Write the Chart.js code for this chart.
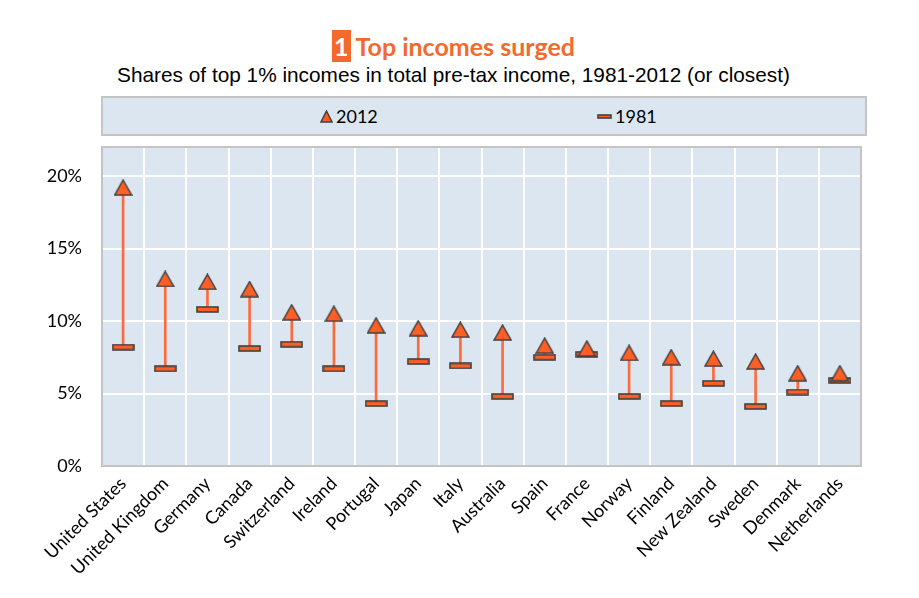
<!DOCTYPE html>
<html>
<head>
<meta charset="utf-8">
<script src="https://cdn.jsdelivr.net/npm/chart.js@4.4.1/dist/chart.umd.min.js"></script>
<style>
  body { margin: 0; background: #fff; width: 919px; height: 598px; position: relative; overflow: hidden; }
  #title { position: absolute; top: 31px; left: 0; width: 907px; text-align: center; font: bold 25px Lato, sans-serif; color: #F36A2C; }
  #title .num { background: #F36A2C; color: #fff; padding: 1px 2px; margin-right: 5px; }
  #subtitle { position: absolute; top: 63px; left: 0; width: 907px; text-align: center; font: 20.8px "Liberation Sans", Arial, sans-serif; color: #000; }
  #legend { position: absolute; left: 101px; top: 96px; width: 762px; height: 36px; background: #DCE6F1; border: 2px solid #C4C4C4; }
  .item { position: absolute; top: 7px; font: 18px Lato, sans-serif; color: #000; display: flex; align-items: center; }
  .item canvas { margin-right: 3px; }
  #wrap { position: absolute; left: 0; top: 140px; width: 919px; height: 458px; }
</style>
</head>
<body>
<div id="title"><span class="num">1</span>Top incomes surged</div>
<div id="subtitle">Shares of top 1% incomes in total pre-tax income, 1981-2012 (or closest)</div>
<div id="legend">
  <div class="item" style="left:217px"><canvas id="lgTri"></canvas>2012</div>
  <div class="item" style="left:494px"><canvas id="lgBar"></canvas>1981</div>
</div>
<div id="wrap"><canvas id="chart"></canvas></div>
<script>
const countries = ['United States', 'United Kingdom', 'Germany', 'Canada', 'Switzerland', 'Ireland',
  'Portugal', 'Japan', 'Italy', 'Australia', 'Spain', 'France', 'Norway', 'Finland',
  'New Zealand', 'Sweden', 'Denmark', 'Netherlands'];
const share2012 = [19.2, 12.9, 12.7, 12.2, 10.6, 10.5, 9.7, 9.5, 9.4, 9.2, 8.3, 8.1, 7.8, 7.5, 7.4, 7.2, 6.4, 6.4];
const share1981 = [8.2, 6.7, 10.8, 8.1, 8.4, 6.7, 4.3, 7.2, 6.9, 4.8, 7.5, 7.7, 4.8, 4.3, 5.7, 4.1, 5.1, 5.9];
const yTicks = [0, 5, 10, 15, 20];

const orange = '#FF5E24';
const dark = '#404040';

// marker images, used in the chart and the legend
function triangleMarker(w, h, canvas) {
  const c = canvas || document.createElement('canvas');
  c.width = w; c.height = h;
  const g = c.getContext('2d');
  g.beginPath();
  g.moveTo(w / 2, 1);
  g.lineTo(w - 1, h - 1);
  g.lineTo(1, h - 1);
  g.closePath();
  g.fillStyle = orange;
  g.fill();
  g.lineWidth = 1.5;
  g.strokeStyle = dark;
  g.stroke();
  return c;
}

function barMarker(w, h, canvas) {
  const c = canvas || document.createElement('canvas');
  c.width = w; c.height = h;
  const g = c.getContext('2d');
  g.fillStyle = orange;
  g.fillRect(1, 1, w - 2, h - 2);
  g.lineWidth = 1.6;
  g.strokeStyle = dark;
  g.strokeRect(1, 1, w - 2, h - 2);
  return c;
}

triangleMarker(13, 13, document.getElementById('lgTri'));
barMarker(15, 5, document.getElementById('lgBar'));

const triImg = triangleMarker(19, 17);
const barImg = barMarker(23, 7);

// plot background and frame
const plotFrame = {
  id: 'plotFrame',
  beforeDraw(chart) {
    const a = chart.chartArea, g = chart.ctx;
    g.save();
    g.fillStyle = '#DCE6F1';
    g.fillRect(a.left, a.top, a.right - a.left, a.bottom - a.top);
    g.restore();
  },
  beforeDatasetsDraw(chart) {
    const a = chart.chartArea, g = chart.ctx;
    g.save();
    g.strokeStyle = '#C4C4C4';
    g.lineWidth = 2;
    g.strokeRect(a.left, a.top, a.right - a.left, a.bottom - a.top);
    g.restore();
  }
};

const connector = share1981.map((v, i) => [v, share2012[i]]);

new Chart(document.getElementById('chart'), {
  type: 'bar',
  data: {
    labels: countries,
    datasets: [
      { label: 'change', data: connector, backgroundColor: '#FF6A3D', barThickness: 2, order: 3 },
      { type: 'line', label: '1981', data: share1981, showLine: false, pointStyle: barImg, order: 2 },
      { type: 'line', label: '2012', data: share2012, showLine: false, pointStyle: triImg, order: 1 }
    ]
  },
  options: {
    responsive: true,
    maintainAspectRatio: false,
    animation: false,
    events: [],
    layout: { padding: { top: 7, right: 58, left: 0, bottom: 0 } },
    plugins: { legend: { display: false }, tooltip: { enabled: false } },
    scales: {
      x: {
        offset: true,
        grid: { offset: true, color: '#FFFFFF', lineWidth: 2, drawTicks: false },
        border: { display: false },
        ticks: {
          color: '#000', font: { family: 'Lato', size: 18 },
          maxRotation: 45, minRotation: 45, padding: 7, autoSkip: false
        },
        afterFit(scale) { scale.height = 132; scale.paddingLeft = 0; scale.paddingRight = 0; }
      },
      y: {
        min: 0, max: 22,
        grid: { color: '#FFFFFF', lineWidth: 2, drawTicks: false },
        border: { display: false },
        ticks: {
          color: '#000', font: { family: 'Lato', size: 18 }, padding: 20,
          callback: v => v + '%'
        },
        afterBuildTicks(scale) { scale.ticks = yTicks.map(v => ({ value: v })); },
        afterFit(scale) { scale.width = 102; scale.paddingTop = 0; scale.paddingBottom = 0; }
      }
    }
  },
  plugins: [plotFrame]
});
</script>
</body>
</html>
